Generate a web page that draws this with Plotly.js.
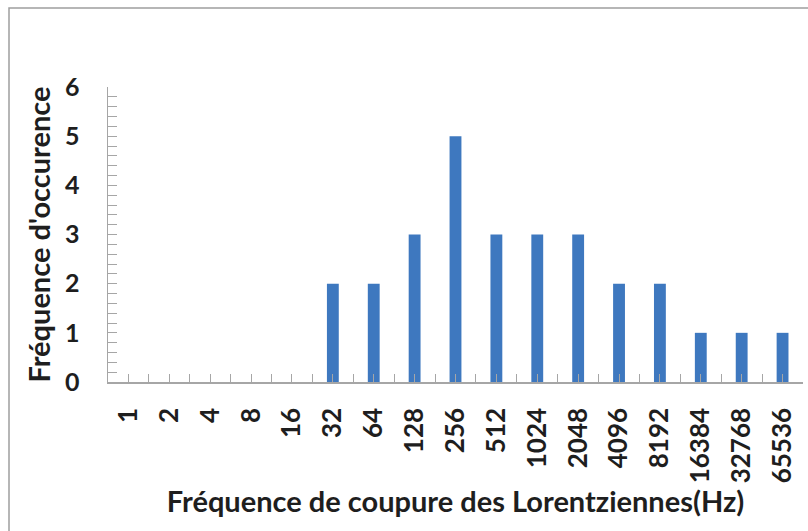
<!DOCTYPE html>
<html>
<head>
<meta charset="utf-8">
<script src="https://cdn.plot.ly/plotly-3.0.1.min.js"></script>
<style>html,body{margin:0;padding:0;background:#fff;}#chart{width:808px;height:531px;}</style>
</head>
<body>
<div id="chart"></div>
<script>
const categories = ["1","2","4","8","16","32","64","128","256","512","1024","2048","4096","8192","16384","32768","65536"];
const counts = [0,0,0,0,0,2,2,3,5,3,3,3,2,2,1,1,1];
const xTitle = "Fréquence de coupure des Lorentziennes(Hz)";
const yTitle = "Fréquence d'occurence";

const positions = categories.map((c, i) => i);
const W = 808, H = 531;
const m = {l:108, r:5, t:87, b:149};
const pw = W - m.l - m.r, ph = H - m.t - m.b;
const px = v => (v - m.l) / pw;
const py = v => (H - m.b - v) / ph;

const fontFam = "Lato, 'Open Sans', sans-serif";
const axisCol = "#A6A6A6";

Plotly.newPlot("chart", [{
  type: "bar",
  x: positions,
  y: counts,
  width: 0.29,
  marker: {color: "#3E78BF", line: {width: 0}},
  hoverinfo: "none"
}], {
  width: W, height: H,
  margin: m,
  paper_bgcolor: "#fff", plot_bgcolor: "#fff",
  showlegend: false,
  xaxis: {
    range: [-0.5, categories.length - 0.5],
    tickmode: "array", tickvals: positions, ticktext: categories,
    tickangle: -90,
    ticks: "inside", ticklen: 8, tickcolor: axisCol, tickwidth: 1,
    minor: {tickmode: "linear", tick0: -0.5, dtick: 1, ticks: "inside", ticklen: 8, tickcolor: axisCol, showgrid: false},
    showline: true, linecolor: axisCol, linewidth: 1.5,
    showgrid: false, zeroline: false,
    ticklabelstandoff: 14,
    tickfont: {family: fontFam, size: 26, color: "#1e1e1e", weight: "bold"},
    title: {text: xTitle, font: {family: fontFam, size: 29, color: "#1e1e1e", weight: "bold"}, standoff: 2}
  },
  yaxis: {
    range: [0, 6], dtick: 1, tick0: 0,
    ticks: "inside", ticklen: 9, tickcolor: axisCol, tickwidth: 1,
    minor: {dtick: 0.2, ticks: "inside", ticklen: 9, tickcolor: axisCol, showgrid: false},
    showline: true, linecolor: axisCol, linewidth: 1.5,
    showgrid: false, zeroline: false,
    ticklabelstandoff: 22,
    tickfont: {family: fontFam, size: 25, color: "#1e1e1e", weight: "bold"},
    title: {text: yTitle, font: {family: fontFam, size: 29, color: "#1e1e1e", weight: "bold"}, standoff: 6}
  },
  shapes: [{
    type: "rect", xref: "paper", yref: "paper", layer: "above",
    x0: px(9), x1: px(830), y0: py(8), y1: py(560),
    line: {color: "#9E9E9E", width: 1.5}, fillcolor: "rgba(0,0,0,0)"
  }]
}, {staticPlot: true, displayModeBar: false});
</script>
</body>
</html>
